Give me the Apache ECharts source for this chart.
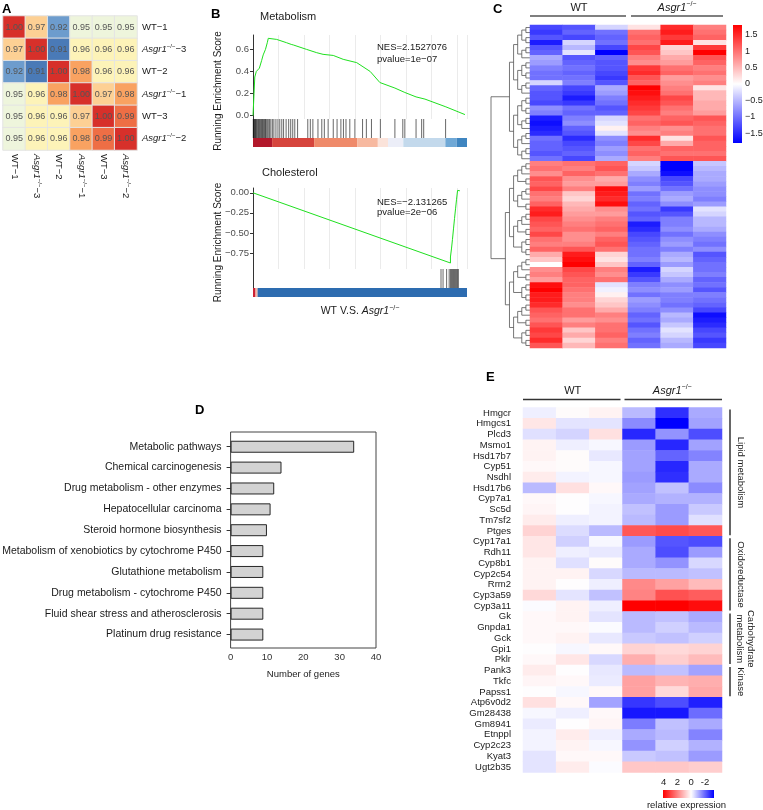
<!DOCTYPE html>
<html>
<head>
<meta charset="utf-8">
<script src="https://cdn.jsdelivr.net/npm/echarts@6/dist/echarts.min.js"></script>
<style>html,body{margin:0;padding:0;background:#fff}#main{width:763px;height:810px}</style>
</head>
<body>
<div id="main"></div>
<script>
// ---------- A: sample correlation ----------
var corrSamples = ['WT−1', 'Asgr1−/−−3', 'WT−2', 'Asgr1−/−−1', 'WT−3', 'Asgr1−/−−2'];
var corrValues = [
  [1.00, 0.97, 0.92, 0.95, 0.95, 0.95],
  [0.97, 1.00, 0.91, 0.96, 0.96, 0.96],
  [0.92, 0.91, 1.00, 0.98, 0.96, 0.96],
  [0.95, 0.96, 0.98, 1.00, 0.97, 0.98],
  [0.95, 0.96, 0.96, 0.97, 1.00, 0.99],
  [0.95, 0.96, 0.96, 0.98, 0.99, 1.00]
];

// ---------- B: GSEA ----------
var rankMax = 8400;
var metaCurve = [[0,0],[40,0.2],[70,0.35],[130,0.40],[250,0.43],[340,0.5],[400,0.55],[490,0.6],[560,0.66],[600,0.70],
  [930,0.69],[1320,0.66],[1500,0.645],[1580,0.64],[1640,0.645],[2100,0.6],[2500,0.57],[2750,0.555],[3150,0.545],
  [3540,0.51],[4070,0.48],[4600,0.40],[4980,0.30],[5570,0.25],[5960,0.21],[6400,0.17],[6750,0.15],[7570,0.08],[8320,0.01]];
var metaHits = [10,30,50,70,90,110,130,160,190,220,250,280,310,340,370,400,430,460,490,520,560,600,650,700,760,820,
  900,980,1050,1130,1200,1300,1400,1480,1560,1640,1750,2150,2250,2350,2550,2700,2800,2950,3150,3300,3450,3550,3650,
  3800,4000,4300,4450,4650,5000,5570,5880,5960,6400,6620,6700,7560];
var metaBarEdges = [0,750,2400,4100,4900,5300,5900,7550,8000,8400];
var cholCurve = [[0,0],[7750,-0.875],[7750,-0.80],[7790,-0.805],[7790,-0.70],[7830,-0.705],[7830,-0.58],[7870,-0.585],
  [7870,-0.45],[7910,-0.455],[7910,-0.32],[7950,-0.325],[7950,-0.2],[7990,-0.205],[7990,-0.08],[8030,-0.085],[8030,0.03],[8120,0.025]];
var cholHits = [7380,7460,7600,7700,7750,7790,7830,7870,7910,7950,7990,8030,8060];
var cholBarEdges = [0,100,180,8400];

// ---------- C: DEG heatmap ----------
var clusterSizes = [27, 37];
var cWT1 = [-1.3,-1.4,-1.2,-1.6,-1.2,-1.1,-0.6,-0.7,-0.9,-1.0,-1.0,-0.3,-1.1,-1.2,-1.2,-1.3,-0.8,-0.9,-1.6,-1.7,-1.6,-1.5,-1.0,-1.1,-1.1,-1.2,-1.0,
  0.9,1.0,0.8,1.2,1.1,1.3,1.0,0.9,1.1,1.5,1.6,1.3,1.2,1.1,1.3,1.0,0.9,1.1,0.6,0.4,0.0,0.8,0.9,0.7,1.7,1.8,1.6,1.6,1.5,1.2,1.1,1.0,1.2,1.4,1.3,1.5,1.2];
var cWT2 = [-1.2,-1.1,-1.3,-0.3,-0.5,-0.2,-1.2,-1.1,-1.0,-1.1,-1.0,-0.9,-1.3,-1.4,-1.6,-1.4,-1.0,-1.1,-0.9,-0.8,-1.1,-1.2,-1.5,-1.3,-1.2,-1.1,-1.3,
  1.0,0.9,1.1,0.8,0.7,0.9,0.4,0.3,0.5,0.6,0.7,0.8,0.9,1.0,0.8,0.8,0.9,1.2,1.6,1.7,1.8,1.3,1.2,1.1,1.1,1.0,0.9,0.9,0.8,1.0,1.0,0.7,0.9,0.4,0.6,0.3,0.5];
var cWT3 = [-0.3,-1.0,-1.1,-1.0,-1.3,-1.8,-1.1,-1.2,-1.2,-1.3,-1.4,-1.2,-0.6,-0.7,-0.9,-1.0,-1.2,-1.1,-0.3,-0.2,0.1,-0.2,-0.8,-0.9,-0.7,-0.8,-0.6,
  1.1,1.2,1.0,0.6,0.7,1.7,1.6,1.5,1.7,0.8,0.7,0.9,1.0,1.1,0.9,1.1,1.2,1.0,0.3,0.2,0.4,0.9,0.8,1.0,-0.2,-0.1,0.1,0.3,0.4,0.6,0.9,0.8,1.0,1.0,1.1,0.9,1.0];
var cKO1 = [0.2,1.0,1.1,1.0,1.3,1.2,0.9,0.8,1.4,1.5,1.2,1.1,1.8,1.7,1.6,1.5,1.4,1.3,1.0,1.1,0.9,0.8,1.5,1.3,1.0,1.1,0.9,
  -0.3,-0.4,-0.6,-0.8,-0.9,-0.7,-1.0,-0.9,-1.1,-1.0,-1.2,-1.1,-1.6,-1.5,-1.3,-1.2,-1.1,-1.0,-1.0,-0.9,-1.1,-1.6,-1.4,-1.2,-0.9,-0.8,-1.0,-0.7,-0.8,-0.9,-1.1,-1.0,-1.2,-1.0,-0.9,-1.1,-1.0];
var cKO2 = [1.5,1.6,1.4,1.6,0.3,0.4,0.6,0.7,1.0,1.1,0.7,0.8,0.9,1.0,1.3,1.2,1.0,0.9,1.1,1.2,0.8,0.9,0.2,0.6,1.1,1.0,1.2,
  -1.8,-1.8,-1.7,-1.3,-1.2,-1.0,-0.7,-0.6,-0.8,-1.4,-1.2,-0.9,-0.9,-0.8,-1.0,-0.8,-0.7,-0.9,-0.6,-0.5,-0.7,-0.3,-0.4,-0.6,-0.8,-0.7,-0.9,-0.9,-1.0,-0.8,-0.5,-0.6,-0.4,-0.2,-0.3,-0.5,-0.6];
var cKO3 = [0.9,1.0,1.1,0.2,1.4,1.8,1.2,1.1,0.9,1.0,0.8,0.9,0.2,0.5,0.5,0.6,0.6,0.7,1.2,1.1,1.0,1.0,1.2,1.1,1.1,1.0,1.2,
  -0.4,-0.5,-0.6,-0.6,-0.7,-0.8,-0.8,-0.9,-0.7,-0.2,-0.3,-0.5,-0.5,-0.6,-0.8,-0.9,-1.0,-0.8,-1.2,-1.1,-1.0,-1.0,-0.9,-1.1,-1.0,-1.2,-0.9,-1.0,-1.1,-1.3,-1.7,-1.6,-1.5,-1.3,-1.2,-1.4,-1.3];

// ---------- D: KEGG ----------
var pathways = ['Metabolic pathways','Chemical carcinogenesis','Drug metabolism - other enzymes','Hepatocellular carcinoma',
  'Steroid hormone biosynthesis','Metabolism of xenobiotics by cytochrome P450','Glutathione metabolism',
  'Drug metabolism - cytochrome P450','Fluid shear stress and atherosclerosis','Platinum drug resistance'];
var geneCounts = [34, 14, 12, 11, 10, 9, 9, 9, 9, 9];

// ---------- E: selected genes ----------
var genes = ['Hmgcr','Hmgcs1','Plcd3','Msmo1','Hsd17b7','Cyp51','Nsdhl','Hsd17b6','Cyp7a1','Sc5d','Tm7sf2','Ptges',
  'Cyp17a1','Rdh11','Cyp8b1','Cyp2c54','Rrm2','Cyp3a59','Cyp3a11','Gk','Gnpda1','Gck','Gpi1','Pklr','Pank3','Tkfc','Papss1',
  'Atp6v0d2','Gm28438','Gm8941','Etnppl','Cyp2c23','Kyat3','Ugt2b35'];
var eWT1 = [-0.2,0.4,-0.4,0.2,0.2,0.1,0.3,-0.9,0.1,0.15,0.3,0.7, 0.4,0.4,0.2,0.2,0.2,0.6,-0.05, 0.1,0.1,0.1,0.0,0.1, 0.3,0.15,0.0, 0.5,-0.1,-0.25,-0.15,-0.15,-0.35,-0.35];
var eWT2 = [0.05,-0.35,-0.55,-0.2,0.05,0.05,-0.15,0.5,0.0,0.0,-0.2,-0.45, -0.6,-0.2,-0.4,0.2,0.0,-0.35,0.2, 0.2,0.1,0.2,-0.1,0.4, 0.0,0.1,-0.1, 0.1,-0.2,0.0,0.3,0.2,0.1,0.3];
var eWT3 = [0.2,-0.35,0.5,-0.1,-0.3,-0.1,-0.1,0.1,-0.1,-0.15,-0.15,-0.9, -0.1,-0.3,0.05,-0.5,-0.2,-0.8,-0.2, -0.35,-0.05,-0.3,0.1,-0.5, -0.3,-0.25,0.1, -1.2,0.1,0.15,-0.2,-0.1,0.1,-0.05];
var eKO1 = [-0.9,-1.5,-2.8,-1.3,-1.2,-1.2,-1.3,-1.2,-1.1,-0.8,-0.9,2.7, -1.3,-1.1,-1.1,-0.9,1.9,2.0,4.1, -0.9,-0.9,-0.7,0.7,1.3, -0.9,1.5,1.5, -2.6,-3.0,-1.7,-1.1,-1.4,-0.7,0.9];
var eKO2 = [-2.7,-3.3,-1.4,-2.8,-2.0,-2.8,-2.7,-0.8,-1.0,-1.3,-1.3,2.9, -2.2,-2.3,-1.4,-0.9,1.5,2.8,4.3, -0.8,-0.6,-0.8,0.6,0.8, -0.8,1.2,0.6, -2.3,-3.0,-0.8,-0.9,-0.6,-0.8,0.9];
var eKO3 = [-1.1,-1.2,-2.3,-1.2,-1.6,-1.1,-1.1,-1.5,-1.0,-0.7,-0.4,2.7, -2.3,-1.3,-0.5,-0.8,1.1,2.6,3.9, -1.1,-0.9,-0.6,0.7,1.1, -1.2,1.3,1.4, -2.9,-1.9,-1.1,-1.6,-1.0,-1.3,0.8];
var groupNames = ['Lipid metabolism', 'Oxidoreductase', 'Carbohydrate\nmetabolism', 'Kinase'];
var groupFirst = [0, 12, 19, 24];
var groupLast = [11, 18, 23, 26];
var eTicks = [4, 2, 0, -2];

// ---------- styles / layout ----------
var FONT = '"Liberation Sans", Arial, sans-serif';
var TXT = '#1a1a1a';
var corrColors = ['#4a7ab7','#6d9ccd','#a0c4e0','#d6ebef','#eef5dc','#fdf3b8','#fdd094','#f9a261','#ee6e45','#d7302a'];
var metaBarColors = ['#b2182b','#d6453d','#ef8a6a','#f7b9a0','#fbe3da','#eceef8','#c3d9ec','#6fa8d6','#3f85c0'];
var cholBarColors = ['#cc2233','#f2b8a8','#2d6cb0'];
var cMax = 1.8, eMin = -3.3, eMax = 4.1;

var LA = {left: 3, top: 16, w: 134, h: 134};
var LB = {left: 253, w: 214};
var B1 = {top: 35, h: 84}, B1h = {top: 119, h: 19}, B1c = {top: 138, h: 9};
var B2 = {top: 188, h: 81}, B2h = {top: 269, h: 19}, B2c = {top: 288, h: 9};
var LCd = {left: 491, w: 39}, LC = {left: 530, top: 25, w: 196, h: 323}, LCc = {left: 733, top: 25, w: 9, h: 118};
var LD = {left: 230.6, top: 436.3, w: 145.4, h: 208.7, boxTop: 432, boxBottom: 648};
var LE = {left: 523, top: 407.6, w: 199, h: 364.8}, LEc = {left: 663, top: 790, w: 51, h: 8};

function hexRgb(h) { return [parseInt(h.substr(1,2),16), parseInt(h.substr(3,2),16), parseInt(h.substr(5,2),16)]; }
function mix(a, b, t) {
  t = Math.max(0, Math.min(1, t));
  var x = hexRgb(a), y = hexRgb(b);
  return 'rgb(' + Math.round(x[0]+(y[0]-x[0])*t) + ',' + Math.round(x[1]+(y[1]-x[1])*t) + ',' + Math.round(x[2]+(y[2]-x[2])*t) + ')';
}
function colorC(v) { return v >= 0 ? mix('#ffffff', '#ff0000', v / cMax) : mix('#ffffff', '#0000ff', -v / cMax); }
function colorE(v) { return v >= 0 ? mix('#ffffff', '#ff0000', v / eMax) : mix('#ffffff', '#0000ff', v / eMin); }
var cStops = [], eStops = [];
for (var k = 0; k <= 36; k++) { cStops.push(colorC(-cMax + 2 * cMax * k / 36)); eStops.push(colorE(eMin + (eMax - eMin) * k / 36)); }

function richSized(sz) {
  return {n: {fontFamily: FONT, fontSize: sz, color: TXT}, i: {fontFamily: FONT, fontSize: sz, color: TXT, fontStyle: 'italic'},
    s: {fontFamily: FONT, fontSize: Math.round(sz * 0.65), color: TXT, padding: [0, 0, Math.round(sz * 0.6), 0]}};
}
var rich95 = richSized(9.5), rich11 = richSized(11), rich105 = richSized(10.5);
function sampleLabel(s) {
  if (s.indexOf('Asgr1') === 0) return '{i|Asgr1}{s|−/−}{n|' + s.slice(8) + '}';
  return '{n|' + s + '}';
}

// ---------- derived data ----------
var corrData = [];
corrValues.forEach(function (row, r) { row.forEach(function (v, c) { corrData.push([c, r, v]); }); });

var heatCols = ['WT1', 'WT2', 'WT3', 'KO1', 'KO2', 'KO3'];
var cCols = [cWT1, cWT2, cWT3, cKO1, cKO2, cKO3];
var nRows = cWT1.length, rowIds = [], cData = [];
for (var r = 0; r < nRows; r++) rowIds.push(String(r));
cCols.forEach(function (col, c) { col.forEach(function (v, r) { cData.push([c, r, v]); }); });

var eCols = [eWT1, eWT2, eWT3, eKO1, eKO2, eKO3];
var eData = [];
eCols.forEach(function (col, c) { col.forEach(function (v, r) { eData.push([c, r, v]); }); });

// dendrogram from row order, split by cluster
var dendro = [];
function buildTree(lo, hi) {
  if (lo === hi) return {y: lo, h: 0};
  var mid = Math.floor((lo + hi) / 2);
  var a = buildTree(lo, mid), b = buildTree(mid + 1, hi);
  var h = Math.max(a.h, b.h) + 1;
  dendro.push([a.h, a.y, h, a.y], [b.h, b.y, h, b.y], [h, a.y, h, b.y]);
  return {y: (a.y + b.y) / 2, h: h};
}
var t1 = buildTree(0, clusterSizes[0] - 1);
var t2 = buildTree(clusterSizes[0], nRows - 1);
var rootH = Math.max(t1.h, t2.h) + 3.5;
dendro.push([t1.h, t1.y, rootH, t1.y], [t2.h, t2.y, rootH, t2.y], [rootH, t1.y, rootH, t2.y]);

function segData(edges) { var d = []; for (var i = 0; i < edges.length - 1; i++) d.push([edges[i], edges[i + 1], i]); return d; }

function renderHit(params, api) {
  var a = api.coord([api.value(0), 1]), b = api.coord([api.value(0), 0]);
  return {type: 'line', shape: {x1: a[0], y1: a[1], x2: b[0], y2: b[1]}, style: {stroke: '#111', lineWidth: 0.8, opacity: 0.8}};
}
function renderSeg(colors) {
  return function (params, api) {
    var a = api.coord([api.value(0), 1]), b = api.coord([api.value(1), 0]);
    return {type: 'rect', shape: {x: a[0], y: a[1], width: b[0] - a[0], height: b[1] - a[1]}, style: {fill: colors[api.value(2)]}};
  };
}
function renderLink(params, api) {
  var a = api.coord([api.value(0), api.value(1)]), b = api.coord([api.value(2), api.value(3)]);
  return {type: 'line', shape: {x1: a[0], y1: a[1], x2: b[0], y2: b[1]}, style: {stroke: '#555', lineWidth: 0.8}};
}
function renderCBar(params, api) {
  var a = api.coord([0, cMax]), b = api.coord([1, -cMax]);
  var stops = [];
  for (var k = 0; k <= 10; k++) stops.push({offset: k / 10, color: colorC(cMax - 2 * cMax * k / 10)});
  return {type: 'rect', shape: {x: a[0], y: a[1], width: b[0] - a[0], height: b[1] - a[1]},
    style: {fill: new echarts.graphic.LinearGradient(0, 0, 0, 1, stops)}};
}
function renderEBar(params, api) {
  var a = api.coord([eMax, 1]), b = api.coord([eMin, 0]);
  var stops = [];
  for (var k = 0; k <= 20; k++) stops.push({offset: k / 20, color: colorE(eMax - (eMax - eMin) * k / 20)});
  return {type: 'rect', shape: {x: a[0], y: a[1], width: b[0] - a[0], height: b[1] - a[1]},
    style: {fill: new echarts.graphic.LinearGradient(0, 0, 1, 0, stops)}};
}

function G(l, t, w, h) { return {left: l, top: t, width: w, height: h, containLabel: false, outerBoundsMode: 'none'}; }
var grids = [
  G(LA.left, LA.top, LA.w, LA.h),
  G(LB.left, B1.top, LB.w, B1.h), G(LB.left, B1h.top, LB.w, B1h.h), G(LB.left, B1c.top, LB.w, B1c.h),
  G(LB.left, B2.top, LB.w, B2.h), G(LB.left, B2h.top, LB.w, B2h.h), G(LB.left, B2c.top, LB.w, B2c.h),
  G(LCd.left, LC.top, LCd.w, LC.h), G(LC.left, LC.top, LC.w, LC.h), G(LCc.left, LCc.top, LCc.w, LCc.h),
  G(LD.left, LD.top, LD.w, LD.h),
  G(LE.left, LE.top, LE.w, LE.h), G(LEc.left, LEc.top, LEc.w, LEc.h)
];

function esX(gi) {
  return {gridIndex: gi, type: 'value', min: 0, max: rankMax, interval: 1000, axisLine: {show: false}, axisTick: {show: false},
    axisLabel: {show: false}, splitLine: {show: true, lineStyle: {color: '#ebebeb', width: 1}}};
}
function esY(gi, mn, mx, ticks, dec) {
  return {gridIndex: gi, type: 'value', min: mn, max: mx, axisLine: {show: true, lineStyle: {color: '#333'}},
    axisTick: {show: true, length: 3, customValues: ticks, lineStyle: {color: '#333'}},
    axisLabel: {customValues: ticks, fontSize: 9.5, color: '#4d4d4d', margin: 4,
      formatter: function (v) { return Number(v).toFixed(dec).replace('-', '−'); }},
    splitLine: {show: false}};
}
function hitY(gi) {
  return {gridIndex: gi, type: 'value', min: 0, max: 1, axisLine: {show: true, lineStyle: {color: '#333'}},
    axisTick: {show: false}, axisLabel: {show: false}, splitLine: {show: false}};
}
function hidden(gi, o) { o.gridIndex = gi; o.show = false; return o; }

var xAxes = [
  {gridIndex: 0, type: 'category', data: corrSamples, position: 'bottom', axisLine: {show: false}, axisTick: {show: false},
    axisLabel: {rotate: -90, margin: 4, interval: 0, formatter: sampleLabel, rich: rich95}},
  esX(1), hidden(2, {type: 'value', min: 0, max: rankMax}), hidden(3, {type: 'value', min: 0, max: rankMax}),
  esX(4), hidden(5, {type: 'value', min: 0, max: rankMax}), hidden(6, {type: 'value', min: 0, max: rankMax}),
  hidden(7, {type: 'value', min: 0, max: rootH, inverse: true}),
  hidden(8, {type: 'category', data: heatCols}),
  hidden(9, {type: 'value', min: 0, max: 1}),
  {gridIndex: 10, type: 'value', min: 0, max: 40, interval: 10, offset: 3, axisLine: {show: false},
    axisTick: {length: 4, lineStyle: {color: '#333'}}, axisLabel: {fontSize: 9.5, color: '#333', margin: 4},
    splitLine: {show: false}, name: 'Number of genes', nameLocation: 'middle', nameGap: 21,
    nameTextStyle: {fontSize: 9.5, color: TXT, fontFamily: FONT}},
  hidden(11, {type: 'category', data: heatCols}),
  {gridIndex: 12, type: 'value', min: eMin, max: eMax, inverse: true, position: 'top', axisLine: {show: false},
    axisTick: {show: false}, splitLine: {show: false},
    axisLabel: {customValues: eTicks, fontSize: 9.5, color: TXT, margin: 3}}
];
var yAxes = [
  {gridIndex: 0, type: 'category', data: corrSamples, inverse: true, position: 'right', axisLine: {show: false},
    axisTick: {show: false}, axisLabel: {margin: 5, interval: 0, formatter: sampleLabel, rich: rich95}},
  esY(1, -0.03, 0.73, [0, 0.2, 0.4, 0.6], 1), hitY(2), hidden(3, {type: 'value', min: 0, max: 1}),
  esY(4, -0.95, 0.06, [0, -0.25, -0.5, -0.75], 2), hitY(5), hidden(6, {type: 'value', min: 0, max: 1}),
  hidden(7, {type: 'value', min: -0.5, max: nRows - 0.5, inverse: true}),
  hidden(8, {type: 'category', data: rowIds, inverse: true}),
  {gridIndex: 9, type: 'value', min: -cMax, max: cMax, position: 'right', axisLine: {show: false}, axisTick: {show: false},
    splitLine: {show: false}, axisLabel: {customValues: [-1.5, -1, -0.5, 0, 0.5, 1, 1.5], fontSize: 9, color: TXT, margin: 3,
      formatter: function (v) { return String(v).replace('-', '−'); }}},
  {gridIndex: 10, type: 'category', data: pathways, inverse: true, axisLine: {show: false},
    axisTick: {show: true, length: 4, alignWithLabel: true, lineStyle: {color: '#333'}},
    axisLabel: {fontSize: 10.5, color: TXT, margin: 9, interval: 0}},
  {gridIndex: 11, type: 'category', data: genes, inverse: true, axisLine: {show: false}, axisTick: {show: false},
    axisLabel: {fontSize: 9.5, color: TXT, margin: 12, interval: 0}},
  hidden(12, {type: 'value', min: 0, max: 1})
];

var series = [
  {type: 'heatmap', xAxisIndex: 0, yAxisIndex: 0, data: corrData,
    label: {show: true, fontSize: 9, color: '#555', formatter: function (p) { return p.value[2].toFixed(2); }},
    itemStyle: {borderColor: '#e4e4e4', borderWidth: 1}},
  {type: 'line', xAxisIndex: 1, yAxisIndex: 1, data: metaCurve, showSymbol: false, lineStyle: {color: '#1fe01f', width: 1}, itemStyle: {color: '#1fe01f'}},
  {type: 'custom', xAxisIndex: 2, yAxisIndex: 2, data: metaHits.map(function (v) { return [v]; }), renderItem: renderHit},
  {type: 'custom', xAxisIndex: 3, yAxisIndex: 3, data: segData(metaBarEdges), renderItem: renderSeg(metaBarColors)},
  {type: 'line', xAxisIndex: 4, yAxisIndex: 4, data: cholCurve, showSymbol: false, lineStyle: {color: '#1fe01f', width: 1}, itemStyle: {color: '#1fe01f'}},
  {type: 'custom', xAxisIndex: 5, yAxisIndex: 5, data: cholHits.map(function (v) { return [v]; }), renderItem: renderHit},
  {type: 'custom', xAxisIndex: 6, yAxisIndex: 6, data: segData(cholBarEdges), renderItem: renderSeg(cholBarColors)},
  {type: 'custom', xAxisIndex: 7, yAxisIndex: 7, data: dendro, renderItem: renderLink},
  {type: 'heatmap', xAxisIndex: 8, yAxisIndex: 8, data: cData},
  {type: 'custom', xAxisIndex: 9, yAxisIndex: 9, data: [[0]], renderItem: renderCBar},
  {type: 'bar', xAxisIndex: 10, yAxisIndex: 10, data: geneCounts, barWidth: 12,
    itemStyle: {color: '#d3d3d3', borderColor: '#262626', borderWidth: 1}},
  {type: 'heatmap', xAxisIndex: 11, yAxisIndex: 11, data: eData},
  {type: 'custom', xAxisIndex: 12, yAxisIndex: 12, data: [[0]], renderItem: renderEBar}
];

// ---------- annotations ----------
function txt(x, y, text, o) {
  o = o || {};
  return {type: 'text', x: x, y: y, rotation: o.rot || 0, z: 10,
    style: {text: text, fontFamily: FONT, fontSize: o.size || 11, fontWeight: o.weight || 'normal', fill: o.color || TXT,
      align: o.align || 'center', verticalAlign: 'middle', rich: o.rich, lineHeight: o.lh}};
}
function hline(x1, x2, y, c, w) { return {type: 'line', shape: {x1: x1, y1: y, x2: x2, y2: y}, style: {stroke: c, lineWidth: w}}; }
function vline(x, y1, y2, c, w) { return {type: 'line', shape: {x1: x, y1: y1, x2: x, y2: y2}, style: {stroke: c, lineWidth: w}}; }

var letter = {size: 13, weight: 'bold', align: 'left', color: '#000'};
var graphics = [
  txt(2, 9, 'A', letter), txt(211, 14, 'B', letter), txt(493, 9, 'C', letter), txt(195, 410, 'D', letter), txt(486, 377, 'E', letter),
  // B
  txt(260, 17, 'Metabolism', {size: 11, align: 'left'}),
  txt(262, 173, 'Cholesterol', {size: 11, align: 'left'}),
  txt(218, (B1.top + B1c.top + B1c.h) / 2, 'Running Enrichment Score', {size: 10, rot: Math.PI / 2}),
  txt(218, (B2.top + B2c.top + B2c.h) / 2, 'Running Enrichment Score', {size: 10, rot: Math.PI / 2}),
  txt(377, 47, 'NES=2.1527076', {size: 9.5, align: 'left'}),
  txt(377, 59, 'pvalue=1e−07', {size: 9.5, align: 'left'}),
  txt(377, 202, 'NES=−2.131265', {size: 9.5, align: 'left'}),
  txt(377, 212, 'pvalue=2e−06', {size: 9.5, align: 'left'}),
  txt(LB.left + LB.w / 2, B2c.top + B2c.h + 14, '{n|WT V.S. }{i|Asgr1}{s|−/−}', {rich: rich105}),
  // C header
  txt(LC.left + LC.w / 4, 8, 'WT', {size: 11}),
  txt(LC.left + LC.w * 3 / 4, 8, '{i|Asgr1}{s|−/−}', {rich: rich11}),
  hline(LC.left, LC.left + LC.w / 2 - 2, 16, '#555', 1.5),
  hline(LC.left + LC.w / 2 + 3, LC.left + LC.w - 3, 16, '#555', 1.5),
  // D box
  {type: 'rect', shape: {x: LD.left, y: LD.boxTop, width: LD.w, height: LD.boxBottom - LD.boxTop}, style: {fill: 'none', stroke: '#444', lineWidth: 1}},
  // E header
  txt(LE.left + LE.w / 4, LE.top - 17, 'WT', {size: 11}),
  txt(LE.left + LE.w * 3 / 4, LE.top - 17, '{i|Asgr1}{s|−/−}', {rich: rich11}),
  hline(LE.left, LE.left + LE.w / 2 - 2, LE.top - 8, '#333', 1.5),
  hline(LE.left + LE.w / 2 + 2, LE.left + LE.w, LE.top - 8, '#333', 1.5),
  txt(LEc.left + LEc.w / 2 - 2, 805, 'relative expression', {size: 9.5})
];
var eRowH = LE.h / genes.length;
groupNames.forEach(function (g, i) {
  var y1 = LE.top + groupFirst[i] * eRowH + 2, y2 = LE.top + (groupLast[i] + 1) * eRowH - 1;
  var gx = LE.left + LE.w + 8;
  graphics.push(vline(gx, y1, y2, '#333', 1.5));
  var two = g.indexOf('\n') >= 0;
  graphics.push(txt(gx + (two ? 15 : 11), (y1 + y2) / 2, g, {size: 9.5, rot: -Math.PI / 2, lh: 11}));
});

var chart = echarts.init(document.getElementById('main'));
chart.setOption({
  animation: false,
  backgroundColor: '#fff',
  textStyle: {fontFamily: FONT},
  grid: grids,
  xAxis: xAxes,
  yAxis: yAxes,
  visualMap: [
    {type: 'continuous', show: false, seriesIndex: 0, dimension: 2, min: 0.91, max: 1.0, inRange: {color: corrColors}},
    {type: 'continuous', show: false, seriesIndex: 8, dimension: 2, min: -cMax, max: cMax, inRange: {color: cStops}},
    {type: 'continuous', show: false, seriesIndex: 11, dimension: 2, min: eMin, max: eMax, inRange: {color: eStops}}
  ],
  series: series,
  graphic: graphics
});
</script>
</body>
</html>
